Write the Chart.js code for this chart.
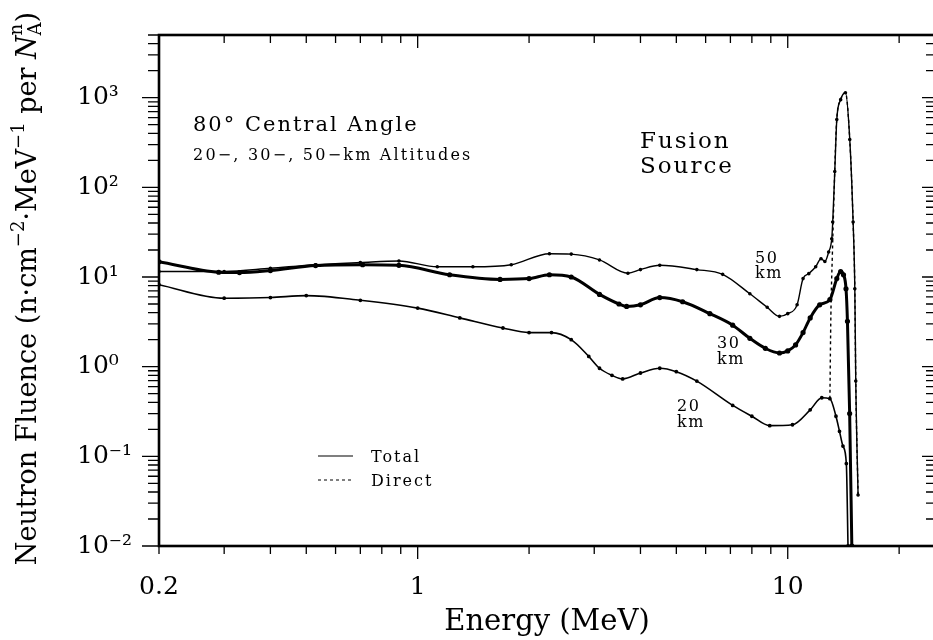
<!DOCTYPE html>
<html>
<head>
<meta charset="utf-8">
<title>Neutron Fluence - Fusion Source</title>
<script src="https://cdn.jsdelivr.net/npm/chart.js@4.4.0/dist/chart.umd.min.js"></script>
<style>
    html, body { margin: 0; padding: 0; background: #fff; overflow: hidden; }
    #wrap { width: 940px; height: 640px; }
</style>
</head>
<body>
<div id="wrap"><canvas id="fluenceChart" width="940" height="640"></canvas></div>
<script>
// Energy (MeV) and fluence values
const km50Energy = [0.2, 0.3, 0.4, 0.53, 0.7, 0.89, 1.13, 1.41, 1.79, 2.27, 2.6, 3.1, 3.7, 4.0, 4.51, 5.68, 6.67, 7.9, 8.8, 9.5, 10.0, 10.6, 11.0, 11.4, 11.9, 12.3, 12.6, 12.9, 13.15, 13.23, 13.4, 13.57, 13.9, 14.32, 14.71, 15.02, 15.18, 15.27, 15.49];
const km50Fluence = [11.5, 11.5, 12.5, 13.7, 14.5, 15.1, 13.0, 13.0, 13.7, 18.2, 18.0, 15.5, 11.0, 12.1, 13.5, 12.1, 10.7, 6.5, 4.6, 3.64, 3.9, 4.9, 9.6, 10.9, 13.0, 16.0, 14.9, 19.0, 26.7, 41, 150, 570, 950, 1135, 342, 41, 7.4, 0.69, 0.037];

const km30Energy = [0.2, 0.29, 0.33, 0.4, 0.53, 0.71, 0.89, 1.22, 1.67, 2.0, 2.27, 2.6, 3.1, 3.5, 3.67, 4.0, 4.51, 5.2, 6.16, 7.1, 7.9, 8.7, 9.5, 10.0, 10.5, 11.0, 11.5, 12.2, 13.0, 13.57, 13.9, 14.15, 14.37, 14.5, 14.7, 14.9];
const km30Fluence = [14.8, 11.3, 11.2, 11.8, 13.4, 13.7, 13.5, 10.6, 9.4, 9.6, 10.6, 10.0, 6.4, 5.0, 4.7, 4.9, 5.9, 5.3, 3.9, 2.9, 2.07, 1.6, 1.42, 1.5, 1.75, 2.4, 3.5, 4.9, 5.6, 9.6, 11.5, 10.6, 7.4, 3.2, 0.3, 0.01];

const km20Energy = [0.2, 0.3, 0.4, 0.5, 0.7, 1.0, 1.3, 1.7, 2.0, 2.3, 2.6, 2.9, 3.1, 3.35, 3.58, 4.0, 4.51, 5.0, 5.68, 7.1, 8.0, 8.94, 10.3, 11.5, 12.36, 13.0, 13.5, 13.8, 14.1, 14.4, 14.55];
const km20Fluence = [8.2, 5.8, 5.9, 6.2, 5.5, 4.5, 3.5, 2.7, 2.4, 2.4, 2.0, 1.3, 0.96, 0.8, 0.73, 0.85, 0.96, 0.88, 0.69, 0.37, 0.28, 0.22, 0.225, 0.33, 0.45, 0.44, 0.28, 0.19, 0.13, 0.083, 0.01];

const directEnergy = [13.0, 13.08, 13.2, 13.35, 13.55, 13.9, 14.32, 14.71, 15.02, 15.18, 15.27, 15.49];
const directFluence = [0.44, 3.8, 17.7, 95, 530, 950, 1135, 342, 41, 7.4, 0.69, 0.037];

// tick labels
const xTickValues = [0.2, 1, 10];
const xTickLabels = ['0.2', '1', '10'];
const yTickValues = [0.01, 0.1, 1, 10, 100, 1000];
const yTickLabels = ['10\u207B\u00B2', '10\u207B\u00B9', '10\u2070', '10\u00B9', '10\u00B2', '10\u00B3'];

const toPoints = (xs, ys) => xs.map((x, i) => ({ x: x, y: ys[i] }));

const SERIF = '"DejaVu Serif", serif';

// all 1..9 x 10^n positions between min and max
function logTicks(min, max) {
    const out = [];
    for (let d = Math.floor(Math.log10(min)); d <= Math.ceil(Math.log10(max)); d++) {
        for (let m = 1; m <= 9; m++) {
            const v = m * Math.pow(10, d);
            if (v >= min * 0.999 && v <= max * 1.001) out.push({ v: v, major: m === 1 });
        }
    }
    return out;
}

function spacedText(ctx, text, x, y, font, spacing) {
    ctx.font = font;
    ctx.letterSpacing = spacing + 'px';
    ctx.fillText(text, x, y);
    ctx.letterSpacing = '0px';
}

const framePlugin = {
    id: 'frameTicks',
    afterDraw(chart) {
        const { ctx, chartArea: a, scales } = chart;
        const xs = scales.x, ys = scales.y;
        ctx.save();
        ctx.strokeStyle = '#000';

        // ticks: outward on left/bottom, inward on top/right
        ctx.lineWidth = 1.3;
        logTicks(0.2, 25).forEach(t => {
            const px = xs.getPixelForValue(t.v);
            const len = t.major ? 13 : 8;
            ctx.beginPath();
            ctx.moveTo(px, a.bottom); ctx.lineTo(px, a.bottom + len);
            ctx.moveTo(px, a.top); ctx.lineTo(px, a.top + len);
            ctx.stroke();
        });
        logTicks(0.01, 5000).forEach(t => {
            const py = ys.getPixelForValue(t.v);
            const lenL = t.major ? 17 : 11;
            const lenR = t.major ? 13 : 9;
            ctx.beginPath();
            ctx.moveTo(a.left - lenL, py); ctx.lineTo(a.left, py);
            ctx.moveTo(a.right, py); ctx.lineTo(a.right - lenR, py);
            ctx.stroke();
        });

        // frame
        ctx.lineWidth = 2.6;
        ctx.strokeRect(a.left, a.top, a.right - a.left, a.bottom - a.top);

        // y axis title with sub/superscripts
        ctx.fillStyle = '#000';
        ctx.translate(36, (a.top + a.bottom) / 2 - 2);
        ctx.rotate(-Math.PI / 2);
        const big = '27px ' + SERIF, small = '18px ' + SERIF, ital = 'italic 27px ' + SERIF;
        const parts = [
            ['Neutron Fluence (n\u00B7cm', big, 0],
            ['\u22122', small, -12],
            ['\u00B7MeV', big, 0],
            ['\u22121', small, -12],
            [' per ', big, 0],
            ['N', ital, 0],
            ['A', small, 5],
            ['n', small, -14, true],
            [')', big, 0]
        ];
        let total = 0;
        const widths = parts.map(p => { ctx.font = p[1]; return ctx.measureText(p[0]).width; });
        parts.forEach((p, i) => { if (!p[3]) total += widths[i]; });
        let cx = -total / 2;
        ctx.textBaseline = 'alphabetic';
        ctx.textAlign = 'left';
        parts.forEach((p, i) => {
            ctx.font = p[1];
            if (p[3]) {
                ctx.fillText(p[0], cx - widths[i - 1], p[2]);
                return;
            }
            ctx.fillText(p[0], cx, p[2]);
            cx += widths[i];
        });
        ctx.restore();

        // annotations
        ctx.save();
        ctx.fillStyle = '#000';
        ctx.strokeStyle = '#000';
        ctx.textAlign = 'left';
        ctx.textBaseline = 'alphabetic';
        spacedText(ctx, '80\u00B0 Central Angle', 193, 131, '21px ' + SERIF, 2);
        spacedText(ctx, '20\u2212, 30\u2212, 50\u2212km Altitudes', 193, 160, '16px ' + SERIF, 2.2);
        spacedText(ctx, 'Fusion', 640, 148, '23px ' + SERIF, 2);
        spacedText(ctx, 'Source', 640, 173, '23px ' + SERIF, 2);

        const lab = '16px ' + SERIF;
        spacedText(ctx, '50', 755, 263, lab, 1.5);
        spacedText(ctx, 'km', 755, 278, lab, 1.5);
        spacedText(ctx, '30', 717, 348, lab, 1.5);
        spacedText(ctx, 'km', 717, 364, lab, 1.5);
        spacedText(ctx, '20', 677, 411, lab, 1.5);
        spacedText(ctx, 'km', 677, 427, lab, 1.5);

        // legend
        spacedText(ctx, 'Total', 371, 462, lab, 2);
        spacedText(ctx, 'Direct', 371, 486, lab, 2);
        ctx.lineWidth = 1.2;
        ctx.beginPath();
        ctx.moveTo(318, 456); ctx.lineTo(353, 456);
        ctx.stroke();
        ctx.setLineDash([3, 3]);
        ctx.beginPath();
        ctx.moveTo(318, 480); ctx.lineTo(353, 480);
        ctx.stroke();
        ctx.restore();
    }
};

function lineSet(label, pts, width, dash) {
    return {
        label: label,
        data: pts,
        showLine: true,
        borderColor: '#000',
        backgroundColor: '#000',
        borderWidth: width,
        borderDash: dash || [],
        pointRadius: dash ? 0 : 1.1,
        pointHoverRadius: 0,
        cubicInterpolationMode: 'monotone',
        fill: false
    };
}

const ctx = document.getElementById('fluenceChart');
new Chart(ctx, {
    type: 'scatter',
    data: {
        datasets: [
            lineSet('50 km', toPoints(km50Energy, km50Fluence), 1.4),
            lineSet('30 km', toPoints(km30Energy, km30Fluence), 3),
            lineSet('20 km', toPoints(km20Energy, km20Fluence), 1.6),
            lineSet('Direct', toPoints(directEnergy, directFluence), 1.4, [3, 3])
        ]
    },
    options: {
        responsive: false,
        animation: false,
        layout: { padding: { left: 77, top: 32, right: 5, bottom: 0 } },
        plugins: {
            legend: { display: false },
            tooltip: { enabled: false }
        },
        scales: {
            x: {
                type: 'logarithmic',
                min: 0.2,
                max: 25,
                grid: { display: false, drawTicks: false },
                border: { display: false },
                afterBuildTicks: s => { s.ticks = xTickValues.map(v => ({ value: v })); },
                afterFit: s => { s.height = 94; },
                ticks: {
                    padding: 26,
                    color: '#000',
                    maxRotation: 0,
                    font: { family: SERIF, size: 25 },
                    callback: v => xTickLabels[xTickValues.indexOf(v)]
                },
                title: {
                    display: true,
                    text: 'Energy (MeV)',
                    color: '#000',
                    font: { family: SERIF, size: 29 },
                    padding: { top: 0, bottom: 0 }
                }
            },
            y: {
                type: 'logarithmic',
                min: 0.01,
                max: 5000,
                grid: { display: false, drawTicks: false },
                border: { display: false },
                afterBuildTicks: s => { s.ticks = yTickValues.map(v => ({ value: v })); },
                afterFit: s => { s.width = 82; },
                ticks: {
                    crossAlign: 'far',
                    padding: 20,
                    color: '#000',
                    font: { family: SERIF, size: 25 },
                    callback: v => yTickLabels[yTickValues.indexOf(v)]
                }
            }
        }
    },
    plugins: [framePlugin]
});
</script>
</body>
</html>
